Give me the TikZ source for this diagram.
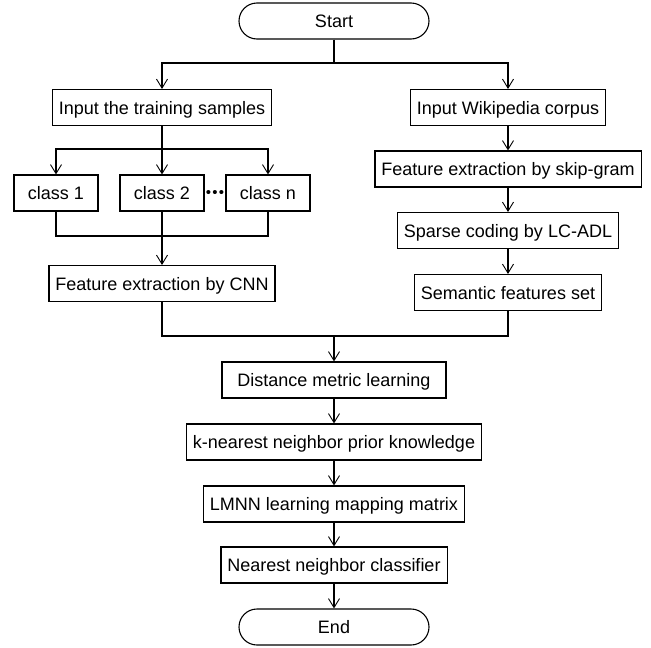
\documentclass[tikz,border=0pt]{standalone}
\usepackage{fontspec}
\setmainfont{Liberation Sans}
\usetikzlibrary{arrows.meta,positioning,calc}
\newcommand{\boxfont}{\fontsize{18}{21}\selectfont}
\tikzset{
  box/.style={draw, line width=1.1pt, minimum height=36pt, inner xsep=6.5pt, text height=13pt, text depth=0pt, font=\boxfont},
  term/.style={box, rounded corners=18pt, minimum width=190pt},
  cls/.style={box, minimum width=84pt},
  arrow/.style={-{Straight Barb[length=9pt,width=11pt,line width=0.9pt]}, line width=1.1pt},
  line/.style={line width=1.1pt}
}

\begin{document}
\begin{tikzpicture}[x=1pt,y=-1pt]
  \useasboundingbox (0,0) rectangle (651,648);

  \node[term] (start) at (334,21) {Start};

  \node[box] (train) at (162,107.5) {Input the training samples};
  \node[cls] (cls1) at (56,193) {class 1};
  \node[cls] (cls2) at (162,193) {class 2};
  \node[cls] (clsn) at (268,193) {class n};
  \node[inner sep=0pt, font=\fontsize{15}{17}\selectfont] (dots) at (215,194) {•\kern1.2pt•\kern1.2pt•};
  \node[box] (cnn) at (162,283.5) {Feature extraction by CNN};

  \node[box] (wiki) at (508,107.5) {Input Wikipedia corpus};
  \node[box] (skip) at (508,169) {Feature extraction by skip-gram};
  \node[box] (sparse) at (508,230.5) {Sparse coding by LC-ADL};
  \node[box] (sem) at (508,292.5) {Semantic features set};

  \node[box, minimum width=224pt] (dml) at (334,380) {Distance metric learning};
  \node[box] (knn) at (334,442) {k-nearest neighbor prior knowledge};
  \node[box] (lmnn) at (334,504) {LMNN learning mapping matrix};
  \node[box] (nnc) at (334,565) {Nearest neighbor classifier};
  \node[term] (finish) at (334,627) {End};

  \coordinate (fork) at (334,63);
  \coordinate (split) at (162,149);
  \coordinate (merge) at (162,236);
  \coordinate (join) at (334,336);

  \draw[line] (start) -- (fork);
  \draw[arrow] (fork) -| (train);
  \draw[arrow] (fork) -| (wiki);
  \draw[arrow] (train) -- (cls2);
  \draw[arrow] (split) -| (cls1);
  \draw[arrow] (split) -| (clsn);
  \draw[line] (cls1) |- (merge) -| (clsn);
  \draw[arrow] (cls2) -- (cnn);
  \draw[arrow] (wiki) -- (skip);
  \draw[arrow] (skip) -- (sparse);
  \draw[arrow] (sparse) -- (sem);
  \draw[line] (cnn) |- (join) -| (sem);
  \draw[arrow] (join) -- (dml);
  \draw[arrow] (dml) -- (knn);
  \draw[arrow] (knn) -- (lmnn);
  \draw[arrow] (lmnn) -- (nnc);
  \draw[arrow] (nnc) -- (finish);
\end{tikzpicture}
\end{document}
